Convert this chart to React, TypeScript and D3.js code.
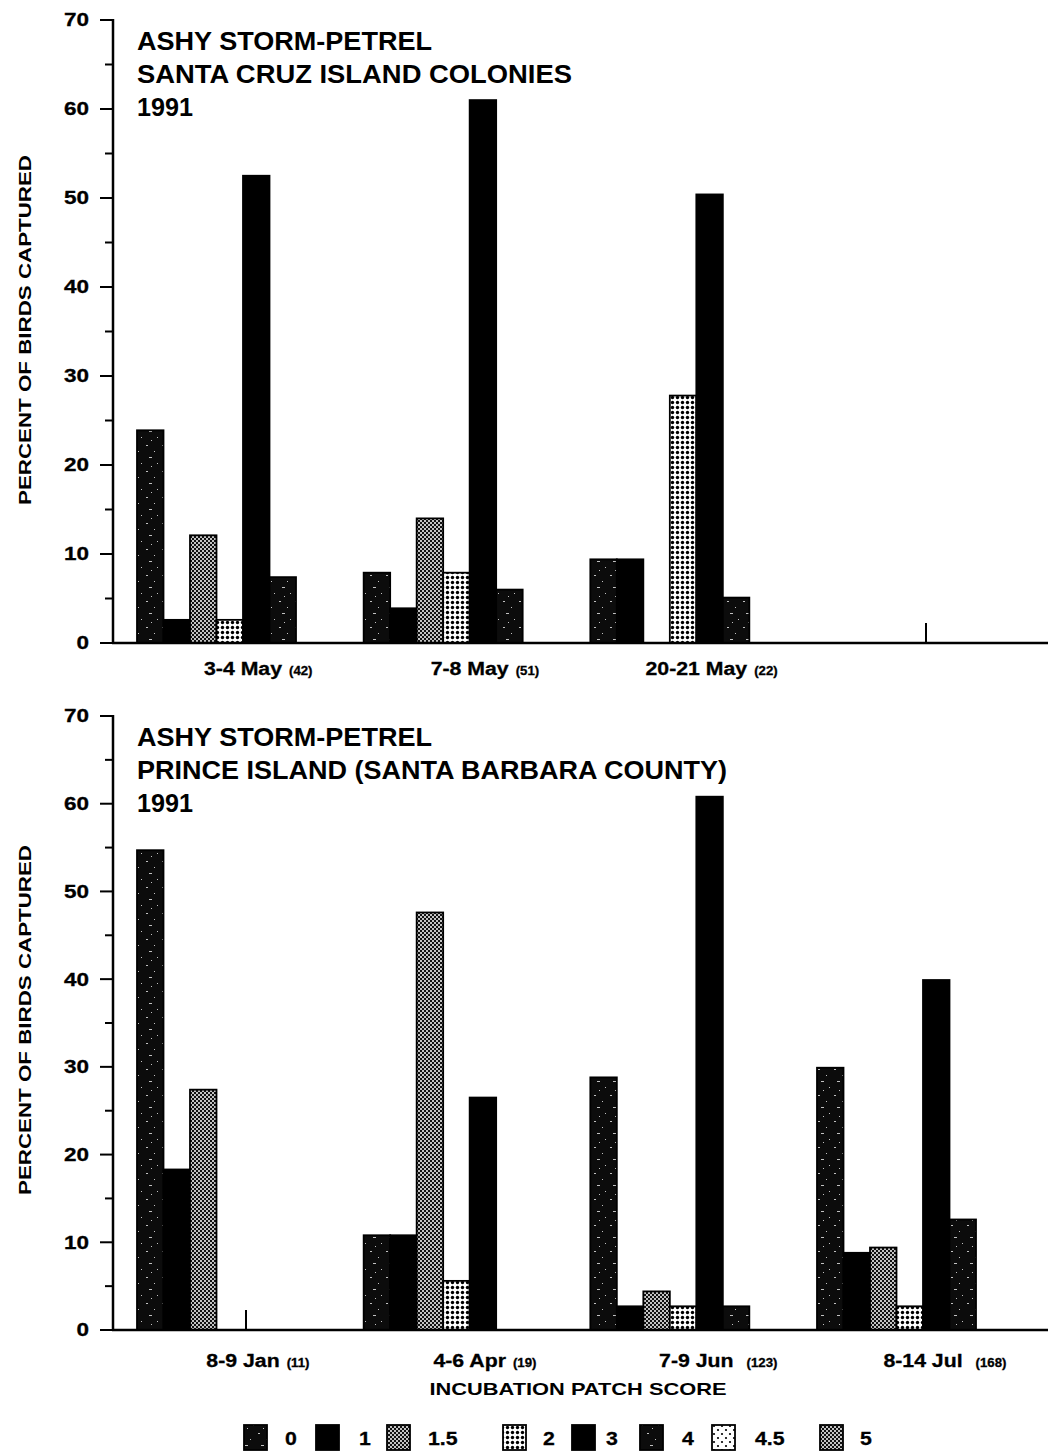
import React, { useEffect, useRef } from "react";
import * as d3 from "d3";

// ---------- DATA ----------
const scores = ["0", "1", "1.5", "2", "3", "4", "4.5", "5"];

const topDates = ["3-4 May", "7-8 May", "20-21 May"];
const topCounts = ["(42)", "(51)", "(22)"];
const topValues = [
  [23.9, 2.6, 12.1, 2.6, 52.5, 7.4, 0, 0],
  [7.9, 3.9, 14.0, 7.9, 61.0, 6.0, 0, 0],
  [9.4, 9.4, 0, 27.8, 50.4, 5.1, 0, 0],
];
const topTitle = ["ASHY STORM-PETREL", "SANTA CRUZ ISLAND COLONIES", "1991"];

const bottomDates = ["8-9 Jan", "4-6 Apr", "7-9 Jun", "8-14 Jul"];
const bottomCounts = ["(11)", "(19)", "(123)", "(168)"];
const bottomValues = [
  [54.7, 18.3, 27.4, 0, 0, 0, 0, 0],
  [10.8, 10.8, 47.6, 5.6, 26.5, 0, 0, 0],
  [28.8, 2.7, 4.4, 2.7, 60.8, 2.7, 0, 0],
  [29.9, 8.8, 9.4, 2.7, 39.9, 12.6, 0, 0],
];
const bottomTitle = ["ASHY STORM-PETREL", "PRINCE ISLAND (SANTA BARBARA COUNTY)", "1991"];

const yMajorTicks = [0, 10, 20, 30, 40, 50, 60, 70];
const yMinorTicks = [5, 15, 25, 35, 45, 55, 65];
const yTitle = "PERCENT OF BIRDS CAPTURED";
const xTitle = "INCUBATION PATCH SCORE";

// ---------- STYLE ----------
const FONT = "'Liberation Sans', Arial, Helvetica, sans-serif";
const patternOf: Record<string, string> = {
  "0": "url(#pSpeck)",
  "1": "#000",
  "1.5": "url(#pCross)",
  "2": "url(#pDots)",
  "3": "#000",
  "4": "url(#pSpeck2)",
  "4.5": "url(#pSparse)",
  "5": "url(#pCross)",
};
const legendSwatchX = [244, 316, 387, 503, 572, 640, 712, 820];
const legendLabelGap = [18, 20, 18, 17, 11, 19, 20, 17];

export default function App() {
  const ref = useRef<SVGSVGElement | null>(null);

  useEffect(() => {
    const svg = d3.select(ref.current);
    svg.selectAll("*").remove();

    // patterns
    const defs = svg.append("defs");
    const speck = (id: string, shift: number) => {
      const p = defs.append("pattern").attr("id", id).attr("patternUnits", "userSpaceOnUse")
        .attr("width", 16).attr("height", 26);
      p.append("rect").attr("width", 16).attr("height", 26).attr("fill", "#0c0c0c");
      const spots = [[2, 3, 2, 1], [10, 9, 1, 1], [5, 15, 3, 1], [13, 21, 1, 1], [7, 24, 1, 1]];
      spots.forEach(([x, y, w, h]) =>
        p.append("rect").attr("x", (x + shift) % 16).attr("y", y).attr("width", w).attr("height", h)
          .attr("fill", "#fff").attr("opacity", 0.75));
    };
    speck("pSpeck", 0);
    speck("pSpeck2", 5);

    const cross = defs.append("pattern").attr("id", "pCross").attr("patternUnits", "userSpaceOnUse")
      .attr("width", 4).attr("height", 4);
    cross.append("rect").attr("width", 4).attr("height", 4).attr("fill", "#111");
    cross.append("circle").attr("cx", 1).attr("cy", 1).attr("r", 1.0).attr("fill", "#fff");
    cross.append("circle").attr("cx", 3).attr("cy", 3).attr("r", 1.0).attr("fill", "#fff");

    const dots = defs.append("pattern").attr("id", "pDots").attr("patternUnits", "userSpaceOnUse")
      .attr("width", 5).attr("height", 5);
    dots.append("rect").attr("width", 5).attr("height", 5).attr("fill", "#fff");
    dots.append("circle").attr("cx", 2.5).attr("cy", 2.5).attr("r", 1.7).attr("fill", "#000");

    const sparse = defs.append("pattern").attr("id", "pSparse").attr("patternUnits", "userSpaceOnUse")
      .attr("width", 8).attr("height", 8);
    sparse.append("rect").attr("width", 8).attr("height", 8).attr("fill", "#fff");
    sparse.append("circle").attr("cx", 2).attr("cy", 2).attr("r", 1.1).attr("fill", "#000");
    sparse.append("circle").attr("cx", 6).attr("cy", 6).attr("r", 1.1).attr("fill", "#000");

    // text drawn with a horizontal glyph stretch; returns its drawn width
    const wideText = (
      parent: d3.Selection<SVGGElement, unknown, null, undefined>,
      x: number, y: number, str: string, size: number, k: number, anchor: string, dy = "0",
    ) => {
      const t = parent.append("text")
        .attr("transform", `translate(${x},${y}) scale(${k},1)`)
        .attr("text-anchor", anchor).attr("dy", dy)
        .attr("font-family", FONT).attr("font-weight", "bold").attr("font-size", size)
        .attr("stroke", "#000").attr("stroke-width", 0.3)
        .text(str);
      return (t.node() as SVGTextElement).getComputedTextLength() * k;
    };

    const axisX = 113;
    const xRight = 1048;
    const groupIdx = [0, 1, 2, 3];
    const xGroup = d3.scaleBand<number>().domain(groupIdx).range([137, 1029]).paddingInner(0.0647).paddingOuter(0);
    const xScore = d3.scaleBand<string>().domain(scores).range([0, xGroup.bandwidth()]).padding(0);

    const drawPanel = (
      y0: number, y70: number, dates: string[], counts: string[], values: number[][],
      title: string[], titleWidths: number[], titleBaseline: number, yTitleCenter: number, labelBaseline: number,
    ) => {
      const y = d3.scaleLinear().domain([0, 70]).range([y0, y70]);
      const g = svg.append("g");

      // group center ticks (behind bars)
      groupIdx.forEach((i) => {
        const cx = (xGroup(i) as number) + xGroup.bandwidth() / 2 + 3;
        g.append("line").attr("x1", cx).attr("x2", cx).attr("y1", y(0)).attr("y2", y(0) - 20)
          .attr("stroke", "#000").attr("stroke-width", 2);
      });

      // bars
      values.forEach((row, gi) => {
        row.forEach((v, si) => {
          if (v <= 0) return;
          const s = scores[si];
          const x = (xGroup(gi) as number) + (xScore(s) as number);
          g.append("rect")
            .attr("x", x).attr("y", y(v)).attr("width", xScore.bandwidth()).attr("height", y(0) - y(v))
            .attr("fill", patternOf[s]).attr("stroke", "#000").attr("stroke-width", 1.8);
        });
      });

      // y axis
      g.append("line").attr("x1", axisX).attr("x2", axisX).attr("y1", y(70) - 1).attr("y2", y(0))
        .attr("stroke", "#000").attr("stroke-width", 2.5);
      yMajorTicks.forEach((t) => {
        g.append("line").attr("x1", axisX - 13).attr("x2", axisX).attr("y1", y(t)).attr("y2", y(t))
          .attr("stroke", "#000").attr("stroke-width", 2);
        wideText(g, 89, y(t), String(t), 18, 1.25, "end", "0.36em");
      });
      yMinorTicks.forEach((t) => {
        g.append("line").attr("x1", axisX - 8).attr("x2", axisX).attr("y1", y(t)).attr("y2", y(t))
          .attr("stroke", "#000").attr("stroke-width", 2);
      });

      // baseline
      g.append("line").attr("x1", axisX - 1).attr("x2", xRight).attr("y1", y(0)).attr("y2", y(0))
        .attr("stroke", "#000").attr("stroke-width", 2.5);

      // y title
      g.append("text")
        .attr("transform", `translate(31,${yTitleCenter}) rotate(-90)`)
        .attr("text-anchor", "middle").attr("font-family", FONT).attr("font-weight", "bold")
        .attr("font-size", 17).attr("textLength", 350).attr("lengthAdjust", "spacingAndGlyphs").text(yTitle);

      // panel title
      title.forEach((line, i) => {
        g.append("text").attr("x", 137).attr("y", titleBaseline + i * 33)
          .attr("font-family", FONT).attr("font-weight", "bold").attr("font-size", 25)
          .attr("textLength", titleWidths[i]).attr("lengthAdjust", "spacingAndGlyphs").text(line);
      });

      // group labels
      dates.forEach((d, i) => {
        const cx = (xGroup(i) as number) + xGroup.bandwidth() / 2;
        const w = wideText(g, cx, labelBaseline, d, 19, 1.12, "middle");
        wideText(g, cx + w / 2 + (counts[i].length > 4 ? 13 : 7), labelBaseline, counts[i], 12, 1.1, "start");
      });
    };

    drawPanel(643, 20, topDates, topCounts, topValues, topTitle, [295, 435, 56], 50, 330, 675);
    drawPanel(1330, 716, bottomDates, bottomCounts, bottomValues, bottomTitle, [295, 590, 56], 746, 1020, 1367);

    // x title
    svg.append("text").attr("x", 578).attr("y", 1395).attr("text-anchor", "middle")
      .attr("font-family", FONT).attr("font-weight", "bold").attr("font-size", 17)
      .attr("textLength", 297).attr("lengthAdjust", "spacingAndGlyphs").text(xTitle);

    // legend
    const lg = svg.append("g");
    scores.forEach((s, i) => {
      const x = legendSwatchX[i];
      lg.append("rect").attr("x", x).attr("y", 1425).attr("width", 23).attr("height", 25)
        .attr("fill", patternOf[s]).attr("stroke", "#000").attr("stroke-width", 1.8);
      wideText(lg, x + 23 + legendLabelGap[i], 1445, s, 19, 1.12, "start");
    });
  }, []);

  return (
    <svg
      ref={ref}
      width={1048}
      height={1454}
      style={{ position: "absolute", left: 0, top: 0, background: "#fff" }}
    />
  );
}
